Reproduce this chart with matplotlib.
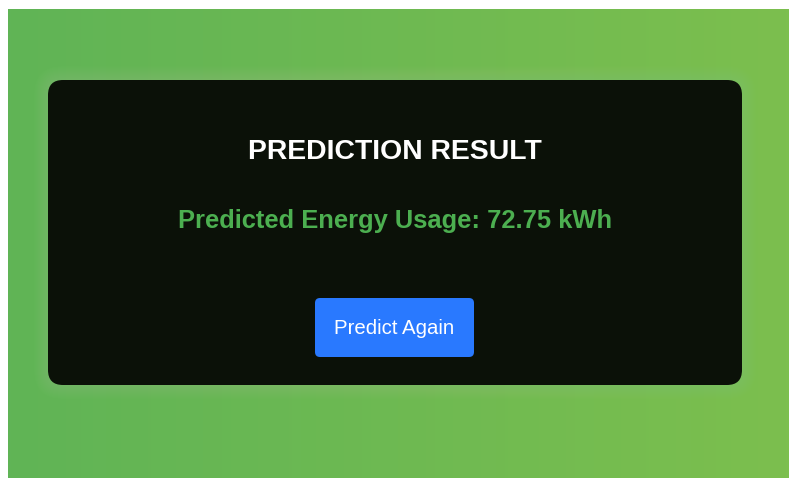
import matplotlib.pyplot as plt
import numpy as np
from matplotlib.patches import FancyBboxPatch

# ----------------- content
title_text = "PREDICTION RESULT"
predicted_kwh = 72.75
result_label = "Predicted Energy Usage"
button_label = "Predict Again"

W, H = 790, 478

fig = plt.figure(figsize=(W / 100, H / 100), dpi=100)
ax = fig.add_axes([0, 0, 1, 1])
ax.set_xlim(0, W)
ax.set_ylim(H, 0)
ax.axis("off")
fig.patch.set_facecolor("white")

# green gradient background (left -> right)
left_col = np.array([96, 180, 86]) / 255
right_col = np.array([124, 191, 78]) / 255
t = np.linspace(0, 1, 256)
grad = left_col[None, :] * (1 - t[:, None]) + right_col[None, :] * t[:, None]
ax.imshow(grad[None, :, :], extent=[8, 789, 478, 9], aspect="auto", zorder=0)

# soft glow round the card
card_x, card_y, card_w, card_h = 48, 80, 694, 305
for i in range(14, 0, -1):
    glow = FancyBboxPatch((card_x - i, card_y - i), card_w + 2 * i, card_h + 2 * i,
                          boxstyle=f"round,pad=0,rounding_size={15 + i}",
                          fc=(0.58, 0.82, 0.52), ec="none", alpha=0.035, zorder=1)
    ax.add_patch(glow)

card = FancyBboxPatch((card_x, card_y), card_w, card_h,
                      boxstyle="round,pad=0,rounding_size=15",
                      fc="#0b1108", ec="none", zorder=2)
ax.add_patch(card)

ax.text(395, 152, title_text, color="white", fontsize=20.4, fontweight="bold",
        family="Liberation Sans", ha="center", va="center", zorder=3)
ax.text(395, 221, f"{result_label}: {predicted_kwh:.2f} kWh", color="#4caf50",
        fontsize=18.4, fontweight="bold", family="Liberation Sans",
        ha="center", va="center", zorder=3)

# button
btn = FancyBboxPatch((315, 298), 159, 59, boxstyle="round,pad=0,rounding_size=5",
                     fc="#2979ff", ec="none", zorder=3)
ax.add_patch(btn)
ax.text(394.5, 328, button_label, color="white", fontsize=14.7,
        family="Liberation Sans", ha="center", va="center", zorder=4)

fig.savefig("out.png", dpi=100)
